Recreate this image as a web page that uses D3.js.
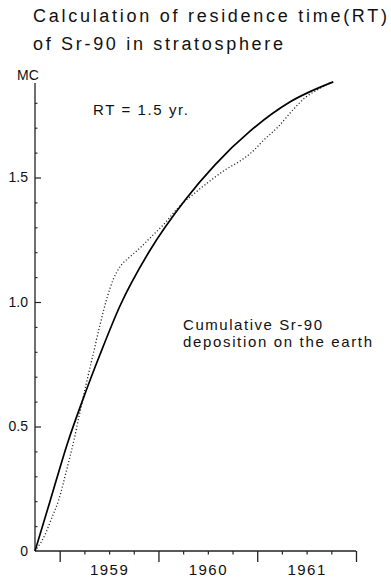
<!DOCTYPE html>
<html>
<head>
<meta charset="utf-8">
<script src="https://cdn.jsdelivr.net/npm/d3@7"></script>
<style>
  html, body { margin: 0; padding: 0; background: #fff; }
  svg { display: block; }
  text { font-family: "Liberation Sans", Arial, sans-serif; fill: #111; }
</style>
</head>
<body>
<svg id="chart" width="391" height="581"></svg>
<script>
// ---- Data ----
const titleLines = ["Calculation of residence time(RT)", "of Sr-90 in stratosphere"];
const yUnit = "MC";
const rtLabel = "RT = 1.5 yr.";
const seriesLabel = ["Cumulative Sr-90", "deposition on the earth"];

// Calculated curve (solid), year vs MC
const calcYears  = [1958.75, 1958.90, 1959.08, 1959.24, 1959.41, 1959.61, 1959.91, 1960.27, 1960.57, 1960.93, 1961.33, 1961.77];
const calcValues = [0.000,   0.197,   0.434,   0.614,   0.791,   0.984,   1.205,   1.410,   1.550,   1.687,   1.803,   1.884];

// Observed cumulative deposition (dotted)
const obsYears  = [1958.75, 1958.85, 1958.92, 1958.99, 1959.07, 1959.145, 1959.205, 1959.266, 1959.337, 1959.408, 1959.479, 1959.539, 1959.61, 1959.711, 1959.813, 1959.914, 1960.066, 1960.197, 1960.369, 1960.521, 1960.673, 1960.825, 1960.946, 1961.058, 1961.21, 1961.36, 1961.48, 1961.604, 1961.736];
const obsValues = [0.000,   0.064,   0.133,   0.205,   0.325,   0.446,    0.558,    0.667,    0.787,    0.908,    1.016,    1.088,    1.141,   1.181,    1.217,    1.257,    1.317,    1.378,    1.438,    1.486,    1.530,    1.566,    1.602,    1.647,    1.703,   1.771,   1.819,   1.851,    1.880];

const yLabelTicks = [0, 0.5, 1.0, 1.5];
const yLabelText  = ["0", "0.5", "1.0", "1.5"];
const yMinorTicks = [0.1,0.2,0.3,0.4,0.6,0.7,0.8,0.9,1.1,1.2,1.3,1.4,1.6,1.7,1.8];
const yTop = 1.88;
const xYearTicks  = [1959, 1960, 1961, 1962];
const xMinorTicks = [1959.25,1959.5,1959.75,1960.25,1960.5,1960.75,1961.25,1961.5,1961.75];
const xLabelPos   = [1959.5, 1960.5, 1961.5];
const xLabelText  = ["1959", "1960", "1961"];
const xDomain = [1958.75, 1962];

// ---- Drawing ----
const svg = d3.select("#chart");
const x = d3.scaleLinear().domain(xDomain).range([35, 356]);
const y = d3.scaleLinear().domain([0, 1.5]).range([551, 177.5]);

// Title
svg.append("text").attr("x", 33).attr("y", 22).attr("font-size", 18)
  .attr("textLength", 354).attr("lengthAdjust", "spacing").text(titleLines[0]);
svg.append("text").attr("x", 33).attr("y", 50).attr("font-size", 18)
  .attr("textLength", 250).attr("lengthAdjust", "spacing").text(titleLines[1]);

// Y axis line
svg.append("line").attr("x1", x(xDomain[0])).attr("x2", x(xDomain[0]))
  .attr("y1", y(0)).attr("y2", y(yTop)).attr("stroke", "#222").attr("stroke-width", 1.3);

// Y minor ticks (inward)
const gy = svg.append("g").attr("transform", `translate(${x(xDomain[0])},0)`);
gy.call(d3.axisRight(y).tickValues(yMinorTicks).tickSize(2.5).tickFormat(""))
  .call(g => g.select(".domain").remove());
gy.call(g => g.selectAll(".tick line").attr("stroke", "#222").attr("stroke-width", 1.1));
// Y labeled ticks
const gy2 = svg.append("g").attr("transform", `translate(${x(xDomain[0])},0)`);
gy2.call(d3.axisRight(y).tickValues(yLabelTicks.filter(d => d > 0)).tickSize(6).tickFormat(""))
  .call(g => g.select(".domain").remove());
gy2.selectAll(".tick line").attr("stroke", "#222").attr("stroke-width", 1.2);
const gyl = svg.append("g").attr("transform", `translate(${x(xDomain[0])},0)`);
gyl.call(d3.axisLeft(y).tickValues(yLabelTicks).tickSize(0).tickPadding(7)
  .tickFormat((d, i) => yLabelText[i]))
  .call(g => g.select(".domain").remove());
gyl.selectAll("text").attr("font-size", 14).attr("font-family", "Liberation Sans, Arial, sans-serif").attr("fill", "#111");

// Unit label
svg.append("text").attr("x", 17).attr("y", 80).attr("font-size", 14).text(yUnit);

// X axis
svg.append("line").attr("x1", x(xDomain[0])).attr("x2", x(xDomain[1]))
  .attr("y1", y(0)).attr("y2", y(0)).attr("stroke", "#222").attr("stroke-width", 1.4);
const gx = svg.append("g").attr("transform", `translate(0,${y(0)})`);
gx.call(d3.axisBottom(x).tickValues(xMinorTicks).tickSize(3.5).tickFormat(""))
  .call(g => g.select(".domain").remove());
gx.selectAll(".tick line").attr("stroke", "#222").attr("stroke-width", 1.2);
const gx2 = svg.append("g").attr("transform", `translate(0,${y(0)})`);
gx2.call(d3.axisBottom(x).tickValues(xYearTicks).tickSize(11).tickFormat(""))
  .call(g => g.select(".domain").remove());
gx2.selectAll(".tick line").attr("stroke", "#222").attr("stroke-width", 1.3);
const gxl = svg.append("g").attr("transform", `translate(0,${y(0)})`);
gxl.call(d3.axisBottom(x).tickValues(xLabelPos).tickSize(0).tickPadding(13)
  .tickFormat((d, i) => xLabelText[i]))
  .call(g => g.select(".domain").remove());
gxl.selectAll("text").attr("font-size", 15).attr("font-family", "Liberation Sans, Arial, sans-serif")
  .attr("fill", "#111").attr("letter-spacing", 1.5);

// Curves
const line = d3.line().x(d => x(d[0])).y(d => y(d[1])).curve(d3.curveMonotoneX);
svg.append("path").datum(obsYears.map((t, i) => [t, obsValues[i]]))
  .attr("d", line).attr("fill", "none").attr("stroke", "#222")
  .attr("stroke-width", 1.3).attr("stroke-dasharray", "1.1 2.2");
svg.append("path").datum(calcYears.map((t, i) => [t, calcValues[i]]))
  .attr("d", line).attr("fill", "none").attr("stroke", "#000")
  .attr("stroke-width", 1.7);

// Annotations
svg.append("text").attr("x", 93).attr("y", 115).attr("font-size", 15)
  .attr("textLength", 95).attr("lengthAdjust", "spacing").text(rtLabel);
svg.append("text").attr("x", 183).attr("y", 330).attr("font-size", 15)
  .attr("textLength", 139).attr("lengthAdjust", "spacing").text(seriesLabel[0]);
svg.append("text").attr("x", 183).attr("y", 347).attr("font-size", 15)
  .attr("textLength", 189).attr("lengthAdjust", "spacing").text(seriesLabel[1]);
</script>
</body>
</html>
